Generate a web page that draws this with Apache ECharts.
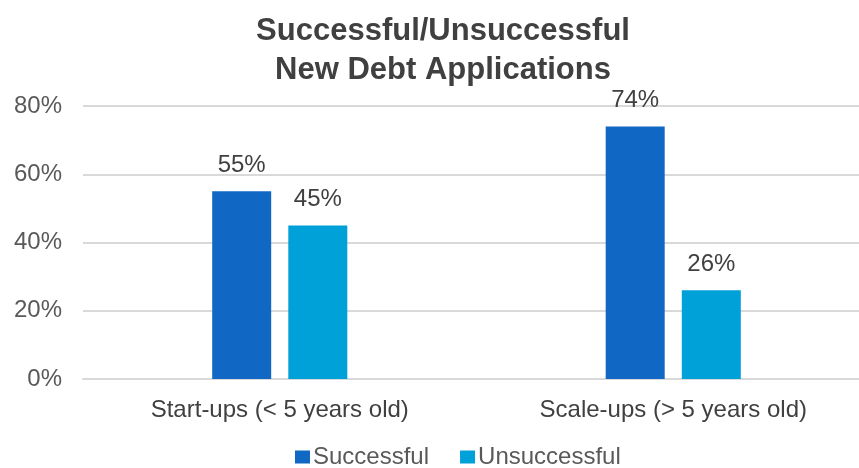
<!DOCTYPE html>
<html>
<head>
<meta charset="utf-8">
<script src="https://cdn.jsdelivr.net/npm/echarts@6/dist/echarts.min.js"></script>
<style>
  html, body { margin: 0; padding: 0; background: #fff; }
  #chart { width: 859px; height: 468px; }
</style>
</head>
<body>
<div id="chart"></div>
<script>
const categories = ["Start-ups (< 5 years old)", "Scale-ups (> 5 years old)"];
const successful = [55, 74];
const unsuccessful = [45, 26];
const yTicks = [0, 20, 40, 60, 80];

const FONT = "'Liberation Sans', Arial, sans-serif";
const TXT = "#404040";

const chart = echarts.init(document.getElementById("chart"), null, { renderer: "canvas" });

const labelStyle = {
  show: true, position: "top", distance: 14,
  color: TXT, fontSize: 24, fontFamily: FONT,
  formatter: p => p.value + "%"
};

chart.setOption({
  animation: false,
  title: {
    text: "Successful/Unsuccessful\nNew Debt Applications",
    left: 438, top: 7, textAlign: "center",
    textStyle: { color: TXT, fontSize: 31, fontWeight: "bold", fontFamily: FONT, lineHeight: 39 }
  },
  legend: {
    bottom: -6, left: 290,
    itemWidth: 15, itemHeight: 13, itemGap: 31,
    icon: "rect",
    textStyle: { color: "#595959", fontSize: 24, fontFamily: FONT, padding: [0, 0, 0, -2] },
    data: ["Successful", "Unsuccessful"]
  },
  grid: { left: 83, width: 787, top: 106, bottom: 89, outerBoundsMode: "none" },
  xAxis: {
    type: "category", data: categories,
    axisLine: { lineStyle: { color: "#d9d9d9", width: 2 } },
    axisTick: { show: false },
    axisLabel: { color: TXT, fontSize: 24, fontFamily: FONT, margin: 19 }
  },
  yAxis: {
    type: "value", min: 0, max: yTicks[yTicks.length - 1], interval: 20,
    axisLine: { show: false }, axisTick: { show: false },
    axisLabel: { color: "#595959", fontSize: 24, fontFamily: FONT, margin: 21, formatter: v => v + "%" },
    splitLine: { lineStyle: { color: "#d9d9d9", width: 2 } }
  },
  series: [
    {
      name: "Successful", type: "bar", barWidth: 59, barGap: "29%",
      itemStyle: { color: "#1068c4" }, label: labelStyle, data: successful
    },
    {
      name: "Unsuccessful", type: "bar", barWidth: 59,
      itemStyle: { color: "#00a0d8" }, label: labelStyle, data: unsuccessful
    }
  ]
});
</script>
</body>
</html>
